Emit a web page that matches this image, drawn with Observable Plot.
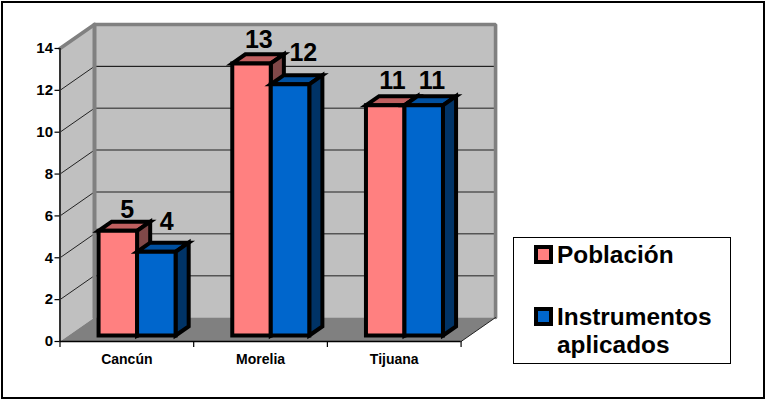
<!DOCTYPE html>
<html>
<head>
<meta charset="utf-8">
<script src="https://cdn.jsdelivr.net/npm/d3@7"></script>
<script src="https://cdn.jsdelivr.net/npm/@observablehq/plot@0.6"></script>
<style>
html,body{margin:0;padding:0;background:#fff;}
#root{position:relative;width:767px;height:400px;overflow:hidden;font-family:"Liberation Sans",Arial,sans-serif;}
#border{position:absolute;left:1px;top:1px;width:760px;height:394px;border:2px solid #000;}
#chart{position:absolute;left:0;top:0;}
#legend{position:absolute;left:513px;top:237px;width:216px;height:125px;border:1px solid #000;background:#fff;color:#000;font-weight:bold;font-size:24.4px;}
#legend .t{position:absolute;left:43px;line-height:28px;white-space:nowrap;}
#legend .s{position:absolute;left:20px;width:11px;height:11px;border:4px solid #000;}
</style>
</head>
<body>
<div id="root">
<div id="border"></div>
<div id="chart"></div>
<div id="legend"></div>
</div>
<script>
const categories = ["Cancún", "Morelia", "Tijuana"];
const poblacion = [5, 13, 11];
const instrumentos = [4, 12, 11];
const seriesNames = ["Población", "Instrumentos aplicados"];
const yTicks = [0, 2, 4, 6, 8, 10, 12, 14];
const xEdges = [0, 1, 2, 3];

// Oblique projection of depth (0 = front, 1 = back wall) into data units
const depthX = 0.258, depthY = 1.147;
const P = (x, y, d = 0) => ({x: x + d * depthX, y: y + d * depthY});

const poly = (pts, o) => Plot.line(pts, {
  x: "x", y: "y", curve: "linear-closed",
  strokeLinejoin: "miter", strokeMiterlimit: 6, ...o
});

const GAP = 0.224, W = 0.288, D1 = 0.25, D2 = 0.63;

function bar(i, k, v, front, top, side) {
  const x0 = i + GAP + k * W, x1 = x0 + W;
  const s = {stroke: "#000", strokeWidth: 4};
  return [
    poly([P(x0, v, D1), P(x1, v, D1), P(x1, v, D2), P(x0, v, D2)], {fill: top, ...s}),
    poly([P(x1, 0, D1), P(x1, 0, D2), P(x1, v, D2), P(x1, v, D1)], {fill: side, ...s}),
    poly([P(x0, 0, D1), P(x1, 0, D1), P(x1, v, D1), P(x0, v, D1)], {fill: front, ...s})
  ];
}

// value labels sit centred over each bar; small per-label nudges in pixels
const nudgeX = [[-1, -3, -3], [0, 3, -2]];
const nudgeY = [[-14, -16, -17], [-23, -24, -17]];
const labelRows = (vals, k) => vals.map((v, i) => ({
  ...P(i + GAP + k * W + W / 2, v, D1 + 0.3), v, dx: nudgeX[k][i], dy: nudgeY[k][i]
}));
const labelMark = (vals, k) => labelRows(vals, k).map(d =>
  Plot.text([d], {x: "x", y: "y", text: r => String(r.v), dx: d.dx, dy: d.dy, fontSize: 25, fontWeight: "bold", fill: "#000"})
);

const gridY = yTicks.filter(t => t > 0 && t < 14);
const gridColor = t => t === 12 ? "#000" : "#555";

const marks = [
  // walls and floor
  poly([P(0,0,0),P(0,0,1),P(0,14,1),P(0,14,0)], {fill: "#c0c0c0"}),
  poly([P(0,0,1),P(3,0,1),P(3,14,1),P(0,14,1)], {fill: "#c0c0c0"}),
  poly([P(0,0,0),P(3,0,0),P(3,0,1),P(0,0,1)], {fill: "#808080"}),
  // grid lines: left wall diagonals and back wall
  ...gridY.flatMap(t => [
    Plot.line([P(0,t,0),P(0,t,1)], {x:"x", y:"y", stroke:"#222", strokeWidth:1}),
    Plot.line([P(0,t,1),P(3,t,1)], {x:"x", y:"y", stroke:gridColor(t), strokeWidth:t === 12 ? 1 : 1.5})
  ]),
  // wall edges
  Plot.line([P(0,0,1),P(0,14,1)], {x:"x", y:"y", stroke:"#808080", strokeWidth:4}),
  Plot.line([P(0,14,0),P(0,14,1),P(3,14,1),P(3,0,1)], {x:"x", y:"y", stroke:"#808080", strokeWidth:3.6, strokeLinejoin:"miter"}),
  Plot.line([P(3,0,0),P(3,0,1)], {x:"x", y:"y", stroke:"#222", strokeWidth:1}),
  // bars
  ...categories.flatMap((c, i) => [
    ...bar(i, 0, poblacion[i], "#ff8080", "#c06060", "#804848"),
    ...bar(i, 1, instrumentos[i], "#0066cc", "#0050a0", "#003366")
  ]),
  // front axes, ticks and tick labels
  Plot.ruleX([0], {y1: 0, y2: 14, stroke: "#333", strokeWidth: 2}),
  Plot.ruleY([0], {x1: 0, x2: 3, stroke: "#000", strokeWidth: 1.5}),
  Plot.ruleY(yTicks, {x1: -0.0374, x2: 0, stroke: "#000", strokeWidth: 1.2}),
  Plot.ruleX(xEdges, {y1: -0.29, y2: 0, stroke: "#000", strokeWidth: 1.2}),
  Plot.text(yTicks, {x: () => 0, y: d => d, text: d => String(d), dx: -7, textAnchor: "end", fontSize: 15, fontWeight: "bold", fill: "#000"}),
  Plot.text(categories, {x: (d, i) => i + 0.5, y: () => 0, dy: 18, text: d => d, fontSize: 14, fontWeight: "bold", fill: "#000"}),
  // value labels
  ...labelMark(poblacion, 0),
  ...labelMark(instrumentos, 1)
];

const chart = Plot.plot({
  width: 767,
  height: 400,
  margin: 0,
  style: {background: "transparent", fontFamily: "'Liberation Sans', Arial, sans-serif", overflow: "visible"},
  x: {type: "linear", domain: [0, 3.25], range: [59.5, 494], axis: null},
  y: {type: "linear", domain: [0, 15], range: [341, 27.05], axis: null},
  marks
});
document.getElementById("chart").appendChild(chart);

const legend = document.getElementById("legend");
const add = (cls, top, txt, color) => {
  const e = document.createElement("div");
  e.className = cls; e.style.top = top + "px";
  if (txt) e.textContent = txt;
  if (color) e.style.background = color;
  legend.appendChild(e);
};
add("s", 7, null, "#ff8080");
add("t", 3, seriesNames[0]);
add("s", 69, null, "#0066cc");
add("t", 65, seriesNames[1].split(" ")[0]);
add("t", 93, seriesNames[1].split(" ")[1]);
</script>
</body>
</html>
